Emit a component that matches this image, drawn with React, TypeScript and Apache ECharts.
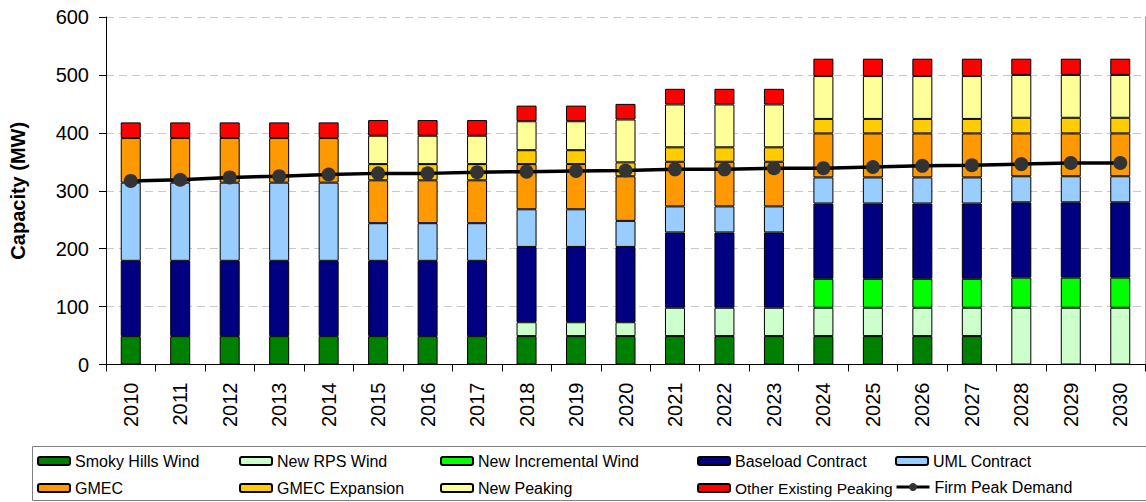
import React, { useEffect, useRef } from "react";
import * as echarts from "echarts";

// Capacity plan by resource, 2010–2030 (MW)
const years = [
  "2010", "2011", "2012", "2013", "2014", "2015", "2016", "2017", "2018", "2019", "2020",
  "2021", "2022", "2023", "2024", "2025", "2026", "2027", "2028", "2029", "2030",
];

const smokyHillsWind = [49, 49, 49, 49, 49, 49, 49, 49, 49, 49, 49, 49, 49, 49, 49, 49, 49, 49, 0, 0, 0];
const newRpsWind = [0, 0, 0, 0, 0, 0, 0, 0, 24, 24, 24, 49, 49, 49, 49, 49, 49, 49, 98, 98, 98];
const newIncrementalWind = [0, 0, 0, 0, 0, 0, 0, 0, 0, 0, 0, 0, 0, 0, 50, 50, 50, 50, 52, 52, 52];
const baseloadContract = [130, 130, 130, 130, 130, 130, 130, 130, 130, 130, 130, 130, 130, 130, 130, 130, 130, 130, 130, 130, 130];
const umlContract = [135, 135, 135, 135, 135, 65, 65, 65, 65, 65, 45, 45, 45, 45, 45, 45, 45, 45, 45, 45, 45];
const gmec = [77, 77, 77, 77, 77, 74, 74, 74, 78, 78, 77, 77, 77, 77, 76, 76, 76, 76, 74, 74, 74];
const gmecExpansion = [0, 0, 0, 0, 0, 28, 28, 28, 24, 24, 24, 25, 25, 25, 25, 25, 25, 25, 27, 27, 27];
const newPeaking = [0, 0, 0, 0, 0, 49, 49, 49, 50, 50, 74, 74, 74, 74, 74, 74, 74, 74, 74, 74, 74];
const otherExistingPeaking = [27, 27, 27, 27, 27, 27, 27, 27, 27, 27, 27, 27, 27, 27, 30, 30, 30, 30, 28, 28, 28];
const firmPeakDemand = [317, 319, 323, 325, 328, 330, 330, 332, 333, 334, 335, 337, 337, 339, 339, 341, 343, 344, 346, 348, 348];

const yTicks = [0, 100, 200, 300, 400, 500, 600];

const FONT = '"Liberation Sans", Arial, Helvetica, sans-serif';

const stackSeries = [
  { name: "Smoky Hills Wind", data: smokyHillsWind, color: "#008000" },
  { name: "New RPS Wind", data: newRpsWind, color: "#CCFFCC" },
  { name: "New Incremental Wind", data: newIncrementalWind, color: "#00FF00" },
  { name: "Baseload Contract", data: baseloadContract, color: "#000080" },
  { name: "UML Contract", data: umlContract, color: "#99CCFF" },
  { name: "GMEC", data: gmec, color: "#FF9900" },
  { name: "GMEC Expansion", data: gmecExpansion, color: "#FFCC00" },
  { name: "New Peaking", data: newPeaking, color: "#FFFF99" },
  { name: "Other Existing Peaking", data: otherExistingPeaking, color: "#FF0000" },
];

// Legend grid: two rows, five columns
const legendColumns = [
  ["Smoky Hills Wind", "GMEC"],
  ["New RPS Wind", "GMEC Expansion"],
  ["New Incremental Wind", "New Peaking"],
  ["Baseload Contract", "Other Existing Peaking"],
  ["UML Contract", "Firm Peak Demand"],
];

export default function App() {
  const ref = useRef<HTMLDivElement>(null);

  useEffect(() => {
    if (!ref.current) return;
    const chart = echarts.init(ref.current, undefined, { renderer: "svg" });

    const colLeft = [37, 239, 440, 697, 895];
    const rowTop = [453, 480];
    const legends: any[] = [];
    legendColumns.forEach((col, ci) => {
      col.forEach((name, ri) => {
        const isLine = name === "Firm Peak Demand";
        const isLong = name === "Other Existing Peaking";
        legends.push({
          data: [name],
          left: colLeft[ci],
          top: rowTop[ri] - (isLine ? 1 : 0),
          padding: 0,
          itemWidth: isLine ? 33 : 32,
          itemHeight: isLine ? 10 : 8,
          selectedMode: false,
          lineStyle: isLine ? { width: 3, color: "#000" } : undefined,
          textStyle: { fontFamily: FONT, fontSize: isLong ? 15.5 : 16, color: "#000" },
        });
      });
    });

    const option: any = {
      animation: false,
      textStyle: { fontFamily: FONT },
      grid: { left: 98, right: 1, top: 17, bottom: 137.5, containLabel: false },
      legend: legends,
      graphic: [
        {
          type: "rect",
          shape: { x: 32.5, y: 446.5, width: 1130, height: 54 },
          style: { fill: "none", stroke: "#808080", lineWidth: 1 },
          silent: true,
        },
      ],
      xAxis: [
        {
          type: "category",
          data: years,
          axisLine: { lineStyle: { color: "#000", width: 1 } },
          axisTick: { show: true, length: 7, lineStyle: { color: "#000" } },
          axisLabel: {
            rotate: 90,
            margin: 18,
            fontSize: 20,
            color: "#000",
            fontFamily: FONT,
            interval: 0,
          },
        },
        {
          type: "category",
          data: years,
          position: "top",
          axisLine: { show: true, lineStyle: { color: "#000", width: 1 } },
          axisTick: { show: false },
          axisLabel: { show: false },
        },
      ],
      yAxis: [
        {
          type: "value",
          min: yTicks[0],
          max: yTicks[yTicks.length - 1],
          interval: 100,
          name: "Capacity (MW)",
          nameLocation: "middle",
          nameGap: 78,
          nameRotate: 90,
          nameTextStyle: { fontFamily: FONT, fontSize: 20, fontWeight: "bold", color: "#000" },
          axisLine: { show: true, lineStyle: { color: "#000", width: 1 } },
          axisTick: { show: true, length: 7, lineStyle: { color: "#000" } },
          axisLabel: { fontSize: 20, color: "#000", margin: 17, fontFamily: FONT },
          splitLine: { show: true, lineStyle: { color: "#C8C8C8", type: [8, 5], width: 1 } },
        },
        {
          type: "value",
          min: 0,
          max: 600,
          interval: 100,
          position: "right",
          axisLine: { show: true, lineStyle: { color: "#A0A0A0", width: 1 } },
          axisTick: { show: false },
          axisLabel: { show: false },
          splitLine: { show: false },
        },
      ],
      series: [
        ...stackSeries.map((s) => ({
          name: s.name,
          type: "bar",
          stack: "capacity",
          barWidth: 20,
          data: s.data.map((v) => (v === 0 ? null : v)),
          itemStyle: {
            color: s.color,
            borderColor: "#000",
            borderWidth: 1,
          },
          emphasis: { disabled: true },
        })),
        {
          name: "Firm Peak Demand",
          type: "line",
          data: firmPeakDemand,
          symbol: "circle",
          symbolSize: 14,
          itemStyle: { color: "#333333" },
          lineStyle: { color: "#000", width: 3.5 },
          z: 10,
          emphasis: { disabled: true },
        },
      ],
    };

    chart.setOption(option);
    return () => chart.dispose();
  }, []);

  return (
    <div
      ref={ref}
      style={{ position: "fixed", left: 0, top: 0, width: 1146, height: 502, background: "#fff" }}
    />
  );
}
